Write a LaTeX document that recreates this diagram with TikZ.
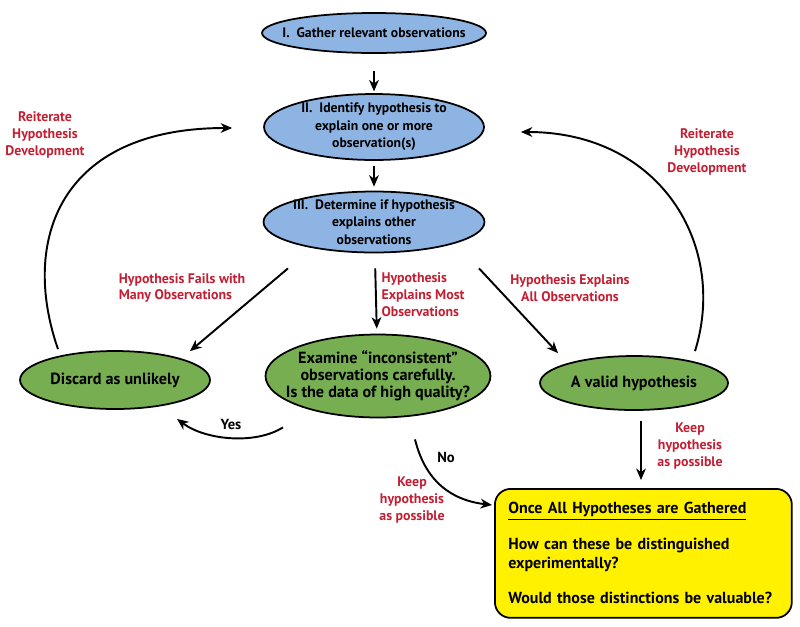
\documentclass[tikz,border=0pt]{standalone}
\usepackage{fontspec}
\setmainfont{PT Sans}
\usetikzlibrary{shapes.geometric, arrows.meta, positioning}
\definecolor{stepblue}{RGB}{141,180,226}
\definecolor{stepgreen}{RGB}{119,174,82}
\definecolor{boxyellow}{RGB}{255,241,0}
\definecolor{notered}{RGB}{196,30,50}
\tikzstyle{stage}=[draw, shape=ellipse, fill=stepblue, line width=1pt, inner xsep=-9pt, inner ysep=-2pt, align=center, font=\fontsize{7.8}{10}\selectfont\bfseries]
\tikzstyle{outcome}=[stage, fill=stepgreen, font=\fontsize{9.2}{9.8}\selectfont\bfseries]
\tikzstyle{note}=[text=notered, align=center, inner sep=0pt, font=\fontsize{7.9}{9.6}\selectfont\bfseries]
\tikzstyle{answer}=[inner sep=0pt, font=\fontsize{8.3}{9.6}\selectfont\bfseries]
\tikzstyle{flow}=[->, line width=1.1pt]
\tikzset{>={Stealth[length=6.5pt, width=5.5pt, inset=2pt]}}

\begin{document}
\begin{tikzpicture}[x=0.02cm, y=-0.02cm]
\useasboundingbox (0,0) rectangle (800,626);
% steps
\node[stage, minimum width=4.48cm, minimum height=0.8cm] (s1) at (374,33) {I.~~Gather relevant observations};
\node[stage, minimum width=4.4cm, minimum height=1.32cm] (s2) at (374,127) {II.~~Identify hypothesis to\\explain one or more\\observation(s)};
\node[stage, minimum width=4.42cm, minimum height=1.22cm] (s3) at (374,222) {III.~~Determine if hypothesis\\explains other\\observations};
%
\node[outcome, minimum width=3.8cm, minimum height=1.16cm] (disc) at (115,380) {Discard as unlikely};
\node[outcome, minimum width=4.5cm, minimum height=1.66cm] (ex) at (378,376) {Examine ``inconsistent''\\observations carefully.\\Is the data of high quality?};
\node[outcome, minimum width=3.76cm, minimum height=1.08cm] (valid) at (634,383) {A valid hypothesis};
%
\node[draw, line width=1pt, rounded corners=9pt, fill=boxyellow, anchor=north west, minimum width=5.94cm, minimum height=2.58cm, text width=5.4cm, inner xsep=0.27cm, align=left, font=\fontsize{9.1}{10.4}\selectfont\bfseries] (box) at (494,488) {\underline{Once All Hypotheses are Gathered}\\[10pt]How can these be distinguished\\experimentally?\\[10pt]Would those distinctions be valuable?};
%
\draw[flow, shorten <=0.34cm, shorten >=1pt] (s1) -- (s2);
\draw[flow, shorten <=0.1cm, shorten >=0.08cm] (s2) -- (s3);
\draw[flow] ([shift={(-86,15)}]s3.south) -- ([shift={(75,1)}]disc.north);
\draw[flow, shorten <=0.3cm, shorten >=0.1cm] (s3) -- (ex);
\draw[flow] ([shift={(105,15)}]s3.south) -- ([shift={(-76,-2)}]valid.north);
%
\draw[flow] ([shift={(-57,-1)}]disc.north) .. controls (20,240) and (60,128) .. ([shift={(-31,1)}]s2.west);
\draw[flow] ([shift={(61,-4)}]valid.north) .. controls (728,245) and (660,132) .. ([shift={(36,5)}]s2.east);
\draw[flow] ([shift={(-95,9)}]ex.south) .. controls (255,445) and (205,440) .. ([shift={(62,9)}]disc.south);
\draw[flow] ([shift={(37,21)}]ex.south) .. controls (425,480) and (450,500) .. ([shift={(-2,17)}]box.north west);
\draw[flow, shorten <=0.2cm, shorten >=0.16cm] ([shift={(7,0)}]valid.south) -- ([shift={(7,0)}]valid.south |- box.north);
%
\node[note] (rl) at (45,135) {Reiterate\\Hypothesis\\Development};
\node[note] (rr) at (707,152) {Reiterate\\Hypothesis\\Development};
\node[note, align=left] (fails) at (182,288) {Hypothesis Fails with\\Many Observations};
\node[note, align=left] (most) at (423,295) {Hypothesis\\Explains Most\\Observations};
\node[note] (all) at (570,288) {Hypothesis Explains\\All Observations};
\node[note] (keepl) at (412,500) {Keep\\hypothesis\\as possible};
\node[note] (keepr) at (690,446) {Keep\\hypothesis\\as possible};
\node[answer] (yes) at (231,424) {Yes};
\node[answer] (no) at (446,457) {No};
\end{tikzpicture}
\end{document}
